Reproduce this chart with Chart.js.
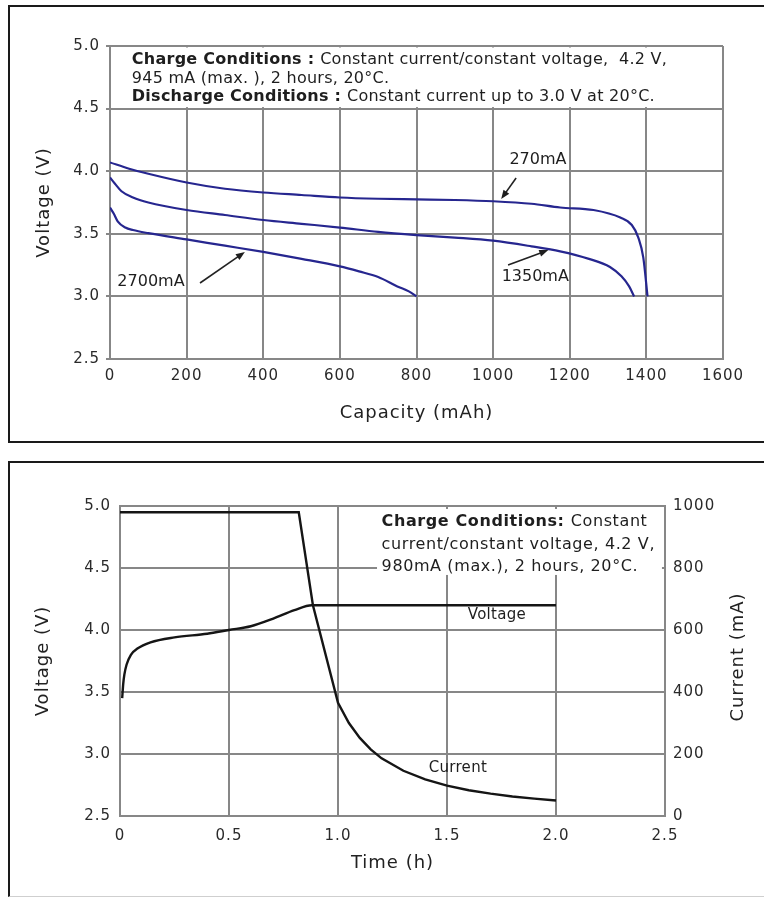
<!DOCTYPE html>
<html>
<head>
<meta charset="utf-8">
<script src="https://cdn.jsdelivr.net/npm/chart.js@4.4.1/dist/chart.umd.min.js"></script>
<style>
  body { margin: 0; background: #fff; }
  #page { position: relative; width: 764px; height: 897px; overflow: hidden; }
  .panel { position: absolute; left: 8px; width: 770px; border: 2px solid #1a1a1a; border-right: none; }
  #p1 { top: 5px; height: 434px; }
  #p2 { top: 461px; height: 433px; border-bottom: 1px solid #cfcfcf; }
  canvas { position: absolute; left: 0; }
  #dischargeChart { top: 0; }
  #chargeChart { top: 450px; }
</style>
</head>
<body>
<div id="page">
  <div class="panel" id="p1"></div>
  <div class="panel" id="p2"></div>
  <canvas id="dischargeChart" width="764" height="450"></canvas>
  <canvas id="chargeChart" width="764" height="447"></canvas>
</div>
<script>
// DISCHARGE DATA (top chart)
const capacityTicks = [0, 200, 400, 600, 800, 1000, 1200, 1400, 1600];
const voltageTicks = [2.5, 3.0, 3.5, 4.0, 4.5, 5.0];

const cap270 = [0, 50, 100, 200, 300, 400, 500, 600, 700, 800, 900, 1000, 1100, 1175, 1262, 1332, 1362, 1379, 1392, 1403];
const volt270 = [4.07, 4.02, 3.98, 3.91, 3.86, 3.83, 3.81, 3.79, 3.78, 3.775, 3.77, 3.76, 3.74, 3.71, 3.69, 3.63, 3.57, 3.47, 3.31, 3.0];

const cap1350 = [0, 13, 30, 60, 100, 200, 300, 400, 500, 600, 700, 800, 900, 1000, 1100, 1175, 1250, 1305, 1335, 1355, 1368];
const volt1350 = [3.95, 3.9, 3.84, 3.79, 3.75, 3.69, 3.65, 3.61, 3.58, 3.55, 3.515, 3.49, 3.47, 3.445, 3.4, 3.36, 3.3, 3.235, 3.16, 3.08, 3.0];

const cap2700 = [0, 10, 20, 40, 60, 100, 200, 300, 400, 500, 600, 650, 700, 750, 780, 800];
const volt2700 = [3.71, 3.66, 3.6, 3.55, 3.53, 3.505, 3.455, 3.405, 3.355, 3.3, 3.24, 3.2, 3.155, 3.08, 3.04, 3.0];

// CHARGE DATA (bottom chart)
const timeTicks = [0, 0.5, 1.0, 1.5, 2.0, 2.5];
const currentTicks = [0, 200, 400, 600, 800, 1000];

const voltTime = [0.01, 0.015, 0.02, 0.03, 0.05, 0.08, 0.14, 0.25, 0.4, 0.5, 0.6, 0.7, 0.8, 0.88, 2.0];
const chargeVoltage = [3.45, 3.57, 3.64, 3.72, 3.8, 3.85, 3.9, 3.94, 3.97, 4.0, 4.03, 4.09, 4.16, 4.2, 4.2];

const currTime = [0, 0.82, 0.885, 1.0, 1.05, 1.1, 1.15, 1.2, 1.3, 1.4, 1.5, 1.6, 1.7, 1.8, 1.9, 2.0];
const chargeCurrent = [980, 980, 680, 365, 300, 252, 215, 186, 146, 118, 98, 83, 72, 63, 56, 50];

const FONT = "'DejaVu Sans', sans-serif";
const GRID = '#878787';
const BLUE = '#26268f';
const TICK = '#2a2a2a';

Chart.defaults.font.family = FONT;
Chart.defaults.color = TICK;

const pts = (xs, ys) => xs.map((x, i) => ({ x: x, y: ys[i] }));

function drawRuns(ctx, runs, x, y, size) {
  runs.forEach(([text, bold]) => {
    ctx.font = (bold ? 'bold ' : '') + size + 'px ' + FONT;
    ctx.fillText(text, x, y);
    x += ctx.measureText(text).width;
  });
}

function drawArrow(ctx, x1, y1, x2, y2) {
  const a = Math.atan2(y2 - y1, x2 - x1);
  const c = Math.cos(a), s = Math.sin(a);
  ctx.beginPath();
  ctx.moveTo(x1, y1);
  ctx.lineTo(x2 - 6 * c, y2 - 6 * s);
  ctx.stroke();
  ctx.beginPath();
  ctx.moveTo(x2, y2);
  ctx.lineTo(x2 - 9 * c + 3.5 * s, y2 - 9 * s - 3.5 * c);
  ctx.lineTo(x2 - 9 * c - 3.5 * s, y2 - 9 * s + 3.5 * c);
  ctx.closePath();
  ctx.fill();
}

function line(label, xs, ys, color, width, axis) {
  return {
    label: label, data: pts(xs, ys), yAxisID: axis || 'y',
    borderColor: color, borderWidth: width, pointRadius: 0,
    cubicInterpolationMode: 'monotone', fill: false
  };
}

// TOP CHART
const topBox = [
  [['Charge Conditions : ', true], ['Constant current/constant voltage,  4.2 V,', false]],
  [['945 mA (max. ), 2 hours, 20°C.', false]],
  [['Discharge Conditions : ', true], ['Constant current up to 3.0 V at 20°C.', false]]
];
const topBoxAt = { x: 57, y: [4.888, 4.736, 4.593] };
const topLabels = [
  { text: '270mA', x: 1117, y: 4.09, from: [1060, 3.946], to: [1021, 3.778] },
  { text: '1350mA', x: 1110, y: 3.155, from: [1039, 3.25], to: [1144, 3.37] },
  { text: '2700mA', x: 107, y: 3.115, from: [235, 3.107], to: [352, 3.355] }
];

const topNotes = {
  id: 'topNotes',
  beforeDraw(chart) { chart.ctx.letterSpacing = '1px'; },
  beforeDatasetsDraw(chart) {
    const { ctx, chartArea: a, scales: { y } } = chart;
    const t = y.getPixelForValue(5.0), b = y.getPixelForValue(4.5);
    ctx.save();
    ctx.fillStyle = '#fff';
    ctx.fillRect(a.left + 1.5, t + 1.5, a.right - a.left - 3, b - t - 3);
    ctx.restore();
  },
  afterDatasetsDraw(chart) {
    const { ctx, scales: { x, y } } = chart;
    ctx.save();
    ctx.letterSpacing = '0.25px';
    ctx.fillStyle = '#1e1e1e';
    ctx.strokeStyle = '#222';
    ctx.lineWidth = 1.6;
    ctx.textBaseline = 'middle';
    topBox.forEach((runs, i) => {
      drawRuns(ctx, runs, x.getPixelForValue(topBoxAt.x), y.getPixelForValue(topBoxAt.y[i]), 16);
    });
    ctx.letterSpacing = '0px';
    ctx.textAlign = 'center';
    ctx.font = '16px ' + FONT;
    topLabels.forEach(l => {
      ctx.fillText(l.text, x.getPixelForValue(l.x), y.getPixelForValue(l.y));
      drawArrow(ctx, x.getPixelForValue(l.from[0]), y.getPixelForValue(l.from[1]),
        x.getPixelForValue(l.to[0]), y.getPixelForValue(l.to[1]));
    });
    ctx.restore();
  }
};

new Chart(document.getElementById('dischargeChart'), {
  type: 'line',
  data: {
    datasets: [
      line('270mA', cap270, volt270, BLUE, 2.2),
      line('1350mA', cap1350, volt1350, BLUE, 2.2),
      line('2700mA', cap2700, volt2700, BLUE, 2.2)
    ]
  },
  options: {
    responsive: false,
    animation: false,
    events: [],
    layout: { padding: { top: 46, right: 41, left: 0, bottom: 0 } },
    plugins: { legend: { display: false }, tooltip: { enabled: false } },
    scales: {
      x: {
        type: 'linear', min: 0, max: 1600,
        afterBuildTicks: s => { s.ticks = capacityTicks.map(v => ({ value: v })); },
        afterFit: s => { s.height = 91; },
        ticks: { padding: 8, font: { size: 15 }, color: TICK, callback: (v, i) => String(capacityTicks[i]) },
        grid: { color: GRID, lineWidth: 2, drawTicks: false },
        border: { color: GRID, width: 2 },
        title: { display: true, text: 'Capacity (mAh)', font: { size: 18 }, color: '#222', padding: { bottom: 26 } }
      },
      y: {
        min: 2.5, max: 5.0,
        afterBuildTicks: s => { s.ticks = voltageTicks.map(v => ({ value: v })); },
        afterFit: s => { s.width = 110; },
        ticks: { padding: 6, font: { size: 15 }, color: TICK, callback: (v, i) => voltageTicks[i].toFixed(1) },
        grid: { color: GRID, lineWidth: 2, tickLength: 4 },
        border: { color: GRID, width: 2 },
        title: { display: true, text: 'Voltage (V)', font: { size: 18 }, color: '#222', padding: { top: 34 } }
      }
    }
  },
  plugins: [topNotes]
});

// BOTTOM CHART
const bottomBox = [
  [['Charge Conditions: ', true], ['Constant', false]],
  [['current/constant voltage, 4.2 V,', false]],
  [['980mA (max.), 2 hours, 20°C.', false]]
];
const bottomBoxAt = { x: 1.2, y: [4.871, 4.685, 4.508], x0: 1.179, x1: 2.486, y0: 4.976, y1: 4.444 };
const bottomLabels = [
  { text: 'Voltage', x: 1.729, y: 4.12 },
  { text: 'Current', x: 1.55, y: 2.887 }
];

const bottomNotes = {
  id: 'bottomNotes',
  beforeDraw(chart) { chart.ctx.letterSpacing = '1px'; },
  beforeDatasetsDraw(chart) {
    const { ctx, scales: { x, y } } = chart;
    const l = x.getPixelForValue(bottomBoxAt.x0), r = x.getPixelForValue(bottomBoxAt.x1);
    const t = y.getPixelForValue(bottomBoxAt.y0), b = y.getPixelForValue(bottomBoxAt.y1);
    ctx.save();
    ctx.fillStyle = '#fff';
    ctx.fillRect(l, t, r - l, b - t);
    ctx.restore();
  },
  afterDatasetsDraw(chart) {
    const { ctx, scales: { x, y } } = chart;
    ctx.save();
    ctx.letterSpacing = '0.6px';
    ctx.fillStyle = '#1e1e1e';
    ctx.textBaseline = 'middle';
    bottomBox.forEach((runs, i) => {
      drawRuns(ctx, runs, x.getPixelForValue(bottomBoxAt.x), y.getPixelForValue(bottomBoxAt.y[i]), 16);
    });
    ctx.letterSpacing = '0.3px';
    ctx.textAlign = 'center';
    ctx.font = '15px ' + FONT;
    bottomLabels.forEach(l => {
      ctx.fillText(l.text, x.getPixelForValue(l.x), y.getPixelForValue(l.y));
    });
    ctx.restore();
  },
  afterDraw(chart) {
    // right axis title reads bottom-to-top in the original
    const { ctx, chartArea: a } = chart;
    ctx.save();
    ctx.letterSpacing = '1px';
    ctx.translate(738, (a.top + a.bottom) / 2 - 4);
    ctx.rotate(-Math.PI / 2);
    ctx.font = '18px ' + FONT;
    ctx.fillStyle = '#222';
    ctx.textAlign = 'center';
    ctx.textBaseline = 'middle';
    ctx.fillText('Current (mA)', 0, 0);
    ctx.restore();
  }
};

new Chart(document.getElementById('chargeChart'), {
  type: 'line',
  data: {
    datasets: [
      line('Voltage', voltTime, chargeVoltage, '#151515', 2.4, 'y'),
      Object.assign(line('Current', currTime, chargeCurrent, '#151515', 2.4, 'y1'), { cubicInterpolationMode: 'default', tension: 0 })
    ]
  },
  options: {
    responsive: false,
    animation: false,
    events: [],
    layout: { padding: { top: 56, right: 0, left: 0, bottom: 0 } },
    plugins: { legend: { display: false }, tooltip: { enabled: false } },
    scales: {
      x: {
        type: 'linear', min: 0, max: 2.5,
        afterBuildTicks: s => { s.ticks = timeTicks.map(v => ({ value: v })); },
        afterFit: s => { s.height = 81; },
        ticks: { padding: 11, font: { size: 15 }, color: TICK, callback: (v, i) => timeTicks[i] === 0 ? '0' : timeTicks[i].toFixed(1) },
        grid: { color: GRID, lineWidth: 2, drawTicks: false },
        border: { color: GRID, width: 2 },
        title: { display: true, text: 'Time (h)', font: { size: 18 }, color: '#222', padding: { bottom: 23 } }
      },
      y: {
        min: 2.5, max: 5.0,
        afterBuildTicks: s => { s.ticks = voltageTicks.map(v => ({ value: v })); },
        afterFit: s => { s.width = 120; },
        ticks: { padding: 9, font: { size: 15 }, color: TICK, callback: (v, i) => voltageTicks[i].toFixed(1) },
        grid: { color: GRID, lineWidth: 2, drawTicks: false },
        border: { color: GRID, width: 2 },
        title: { display: true, text: 'Voltage (V)', font: { size: 18 }, color: '#222', padding: { top: 33 } }
      },
      y1: {
        position: 'right', min: 0, max: 1000,
        afterBuildTicks: s => { s.ticks = currentTicks.map(v => ({ value: v })); },
        afterFit: s => { s.width = 99; },
        ticks: { padding: 8, font: { size: 15 }, color: TICK, callback: (v, i) => String(currentTicks[i]) },
        grid: { display: false, drawTicks: false },
        border: { color: GRID, width: 2 }
      }
    }
  },
  plugins: [bottomNotes]
});
</script>
</body>
</html>
